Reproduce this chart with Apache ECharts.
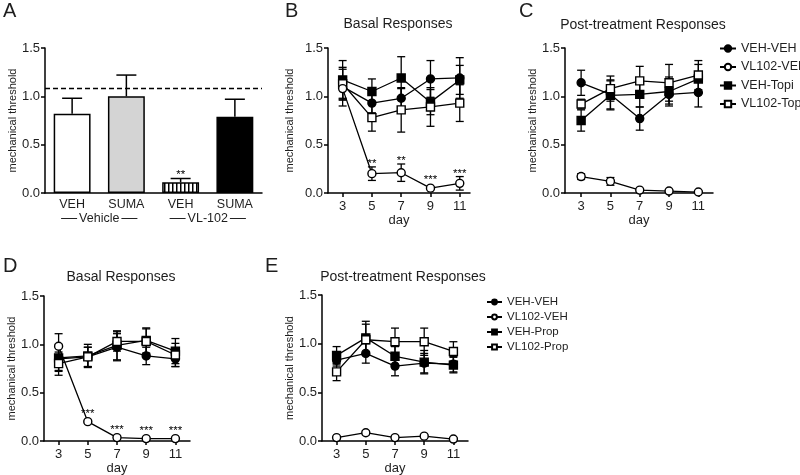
<!DOCTYPE html>
<html><head><meta charset="utf-8">
<script src="https://cdn.jsdelivr.net/npm/echarts@6/dist/echarts.min.js"></script>
<style>html,body{margin:0;padding:0;background:#fff}#c{width:800px;height:475px}</style>
</head><body><div id="c"></div>
<script>
// ---------------- data ----------------
const dayTicks = [3, 5, 7, 9, 11];

// Panel A
const barCats = ['VEH', 'SUMA', 'VEH', 'SUMA'];
const barGroups = ['Vehicle', 'VL-102'];
const barMeans = [0.82, 1.00, 0.11, 0.79];
const barErrs = [0.16, 0.22, 0.04, 0.18];
const barStars = ['', '', '**', ''];
const baselineA = 1.08;

// Panel B (Basal, Topiramate)
const bNames = ['VEH-VEH', 'VL102-VEH', 'VEH-Topi', 'VL102-Topi'];
const bVehVeh = [1.10, 0.93, 0.98, 1.18, 1.19];
const bVehVehErr = [0.20, 0.10, 0.10, 0.19, 0.21];
const bVlVeh = [1.08, 0.20, 0.21, 0.05, 0.10];
const bVlVehErr = [0.12, 0.07, 0.09, 0.01, 0.07];
const bVehTopi = [1.17, 1.05, 1.19, 0.94, 1.17];
const bVehTopiErr = [0.20, 0.13, 0.22, 0.13, 0.15];
const bVlTopi = [1.13, 0.78, 0.86, 0.89, 0.93];
const bVlTopiErr = [0.15, 0.14, 0.23, 0.20, 0.19];
const bStars = ['', '**', '**', '***', '***'];

// Panel C (Post-treatment, Topiramate)
const cVehVeh = [1.14, 1.02, 0.77, 1.02, 1.04];
const cVehVehErr = [0.13, 0.15, 0.12, 0.10, 0.15];
const cVlVeh = [0.17, 0.12, 0.03, 0.02, 0.01];
const cVlVehErr = [0.03, 0.04, 0.01, 0.01, 0.01];
const cVehTopi = [0.75, 1.01, 1.02, 1.05, 1.18];
const cVehTopiErr = [0.11, 0.15, 0.13, 0.15, 0.15];
const cVlTopi = [0.92, 1.08, 1.16, 1.14, 1.22];
const cVlTopiErr = [0.05, 0.13, 0.15, 0.19, 0.15];

// Panel D (Basal, Propranolol)
const dNames = ['VEH-VEH', 'VL102-VEH', 'VEH-Prop', 'VL102-Prop'];
const dVehVeh = [0.85, 0.87, 0.97, 0.88, 0.85];
const dVehVehErr = [0.12, 0.10, 0.14, 0.09, 0.08];
const dVlVeh = [0.98, 0.20, 0.035, 0.025, 0.025];
const dVlVehErr = [0.13, 0.01, 0.01, 0.01, 0.01];
const dVehProp = [0.86, 0.88, 0.99, 1.04, 0.93];
const dVehPropErr = [0.14, 0.12, 0.15, 0.13, 0.13];
const dVlProp = [0.80, 0.87, 1.03, 1.03, 0.89];
const dVlPropErr = [0.12, 0.10, 0.10, 0.13, 0.12];
const dStars = ['', '***', '***', '***', '***'];

// Panel E (Post-treatment, Propranolol)
const eVehVeh = [0.83, 0.90, 0.77, 0.80, 0.79];
const eVehVehErr = [0.06, 0.10, 0.10, 0.10, 0.08];
const eVlVeh = [0.035, 0.085, 0.035, 0.05, 0.02];
const eVlVehErr = [0.01, 0.02, 0.01, 0.01, 0.01];
const eVehProp = [0.88, 1.06, 0.87, 0.81, 0.78];
const eVehPropErr = [0.09, 0.17, 0.10, 0.12, 0.08];
const eVlProp = [0.71, 1.04, 1.02, 1.02, 0.92];
const eVlPropErr = [0.09, 0.16, 0.14, 0.14, 0.10];

// ---------------- chart ----------------
const FONT = 'Liberation Sans, Arial, Helvetica, sans-serif';
const TXT = '#1e1e1e';
const chart = echarts.init(document.getElementById('c'), null, {renderer: 'canvas'});

// striped fill for VL-102 / VEH bar
const pat = document.createElement('canvas');
pat.width = 4; pat.height = 4;
const pctx = pat.getContext('2d');
pctx.fillStyle = '#fff'; pctx.fillRect(0, 0, 4, 4);
pctx.fillStyle = '#000'; pctx.fillRect(0, 0, 1.5, 4);
const barFills = ['#ffffff', '#d4d4d4', {image: pat, repeat: 'repeat'}, '#000000'];

const grids = [
  {left: 45, top: 48, width: 217, height: 145},
  {left: 328, top: 48, width: 142, height: 145},
  {left: 565, top: 48, width: 148, height: 145},
  {left: 44, top: 296, width: 146, height: 145},
  {left: 322, top: 295, width: 146, height: 146}
].map(g => Object.assign({outerBoundsMode: 'none', containLabel: false}, g));

const axisLine = {show: true, lineStyle: {color: '#000', width: 1.5}};
const axisTick = {show: true, length: 4, lineStyle: {color: '#000', width: 1.5}};

function yAxisFor(gi, gap) {
  return {
    gridIndex: gi, type: 'value', min: 0, max: 1.5, interval: 0.5,
    axisLine, axisTick, splitLine: {show: false},
    axisLabel: {margin: 5, fontSize: 13, fontFamily: FONT, color: TXT, formatter: v => v.toFixed(1)},
    name: 'mechanical threshold', nameLocation: 'middle', nameGap: gap,
    nameTextStyle: {fontSize: 11, fontFamily: FONT, color: TXT}
  };
}
function xDayAxis(gi, min, max) {
  return {
    gridIndex: gi, type: 'value', min, max,
    axisLine, splitLine: {show: false},
    axisTick: Object.assign({customValues: dayTicks}, axisTick),
    axisLabel: {customValues: dayTicks, margin: 7, fontSize: 13, fontFamily: FONT, color: TXT},
    name: 'day', nameLocation: 'middle', nameGap: 21,
    nameTextStyle: {fontSize: 13, fontFamily: FONT, color: TXT}
  };
}

const xAxes = [
  {gridIndex: 0, type: 'category', data: barCats, axisLine, axisTick: {show: false},
   axisLabel: {interval: 0, margin: 5, fontSize: 12.5, fontFamily: FONT, color: TXT}},
  {gridIndex: 0, type: 'category', data: barGroups, position: 'bottom', offset: 14,
   axisLine: {show: false}, axisTick: {show: false},
   axisLabel: {interval: 0, margin: 5, fontSize: 12.5, fontFamily: FONT, color: TXT,
     formatter: v => '{l| }{g|' + v + '}{l| }',
     rich: {l: {width: 16, height: 1, backgroundColor: '#222'}, g: {padding: [0, 2], fontSize: 12.5, fontFamily: FONT, color: TXT}}}},
  xDayAxis(1, 2, 11.7),
  xDayAxis(2, 1.9, 12),
  xDayAxis(3, 2, 12),
  xDayAxis(4, 2, 12)
];
const yAxes = [yAxisFor(0, 22), yAxisFor(1, 33), yAxisFor(2, 24), yAxisFor(3, 19), yAxisFor(4, 19)];

function errRender(capHalf) {
  return function (params, api) {
    const x = api.value(0), m = api.value(1), e = api.value(2);
    const top = api.coord([x, m + e]);
    const bot = api.coord([x, Math.max(0, m - e)]);
    const style = {stroke: '#000', lineWidth: 1.3, fill: null};
    return {type: 'group', children: [
      {type: 'line', shape: {x1: top[0], y1: top[1], x2: bot[0], y2: bot[1]}, style},
      {type: 'line', shape: {x1: top[0] - capHalf, y1: top[1], x2: top[0] + capHalf, y2: top[1]}, style},
      {type: 'line', shape: {x1: bot[0] - capHalf, y1: bot[1], x2: bot[0] + capHalf, y2: bot[1]}, style}
    ]};
  };
}
function starSeries(xi, yi, xs, means, errs, stars) {
  return {
    type: 'custom', xAxisIndex: xi, yAxisIndex: yi, z: 5, silent: true,
    data: xs.map((x, i) => [x, means[i], errs[i]]),
    encode: {x: 0, y: 1},
    renderItem: function (params, api) {
      const s = stars[params.dataIndex];
      if (!s) return null;
      const x = api.value(0), m = api.value(1), e = api.value(2);
      const top = api.coord([x, m + e]);
      const pt = api.coord([x, m]);
      const y = Math.min(top[1], pt[1] - 5) - 3;
      return {type: 'text', x: top[0], y: y,
        style: {text: s, align: 'center', verticalAlign: 'middle', fontSize: 11.5, fontFamily: FONT, fill: '#000'}};
    }
  };
}

const symbolStyles = [
  {symbol: 'circle', fill: '#000'},
  {symbol: 'circle', fill: '#fff'},
  {symbol: 'rect', fill: '#000'},
  {symbol: 'rect', fill: '#fff'}
];

function panelSeries(xi, yi, names, means, errs, stars, size) {
  const out = [];
  const errData = [];
  means.forEach((arr, k) => arr.forEach((v, i) => errData.push([dayTicks[i], v, errs[k][i]])));
  out.push({type: 'custom', xAxisIndex: xi, yAxisIndex: yi, z: 1, silent: true,
    data: errData, encode: {x: 0, y: 1}, renderItem: errRender(4)});
  means.forEach((arr, k) => {
    const st = symbolStyles[k];
    out.push({
      type: 'line', name: names[k], xAxisIndex: xi, yAxisIndex: yi, z: 3 + (k === 1 ? 1 : 0),
      data: arr.map((v, i) => [dayTicks[i], v]),
      symbol: st.symbol, symbolSize: size, showSymbol: true, animation: false,
      lineStyle: {color: '#000', width: 1.3},
      itemStyle: {color: st.fill, borderColor: '#000', borderWidth: 1.4, opacity: 1}
    });
  });
  if (stars) out.push(starSeries(xi, yi, dayTicks, means[1], errs[1], stars));
  return out;
}

const series = [];
// Panel A bars
series.push({
  type: 'bar', xAxisIndex: 0, yAxisIndex: 0, barWidth: '68%', animation: false,
  data: barMeans.map((v, i) => ({value: v, itemStyle: {color: barFills[i], borderColor: '#000', borderWidth: 1.5}})),
  markLine: {silent: true, symbol: ['none', 'none'], label: {show: false},
    lineStyle: {color: '#000', type: [5, 3], width: 1.4}, data: [{yAxis: baselineA}]}
});
series.push({type: 'custom', xAxisIndex: 0, yAxisIndex: 0, z: 1, silent: true,
  data: barMeans.map((v, i) => [i, v, barErrs[i]]), encode: {x: 0, y: 1},
  renderItem: function (params, api) {
    const i = api.value(0), m = api.value(1), e = api.value(2);
    const top = api.coord([i, m + e]), base = api.coord([i, m]);
    const style = {stroke: '#000', lineWidth: 1.5, fill: null};
    return {type: 'group', children: [
      {type: 'line', shape: {x1: top[0], y1: top[1], x2: base[0], y2: base[1]}, style},
      {type: 'line', shape: {x1: top[0] - 10, y1: top[1], x2: top[0] + 10, y2: top[1]}, style}
    ]};
  }});
series.push(starSeries(0, 0, barCats.map((c, i) => i), barMeans, barErrs, barStars));

series.push(...panelSeries(2, 1, bNames,
  [bVehVeh, bVlVeh, bVehTopi, bVlTopi], [bVehVehErr, bVlVehErr, bVehTopiErr, bVlTopiErr], bStars, 8));
series.push(...panelSeries(3, 2, bNames,
  [cVehVeh, cVlVeh, cVehTopi, cVlTopi], [cVehVehErr, cVlVehErr, cVehTopiErr, cVlTopiErr], null, 8));
series.push(...panelSeries(4, 3, dNames,
  [dVehVeh, dVlVeh, dVehProp, dVlProp], [dVehVehErr, dVlVehErr, dVehPropErr, dVlPropErr], dStars, 8));
series.push(...panelSeries(5, 4, dNames,
  [eVehVeh, eVlVeh, eVehProp, eVlProp], [eVehVehErr, eVlVehErr, eVehPropErr, eVlPropErr], null, 8));

const letter = (t, l, tp) => ({text: t, left: l, top: tp, padding: 0,
  textStyle: {fontSize: 20, fontWeight: 'normal', fontFamily: FONT, color: TXT}});
const ptitle = (t, cx, tp) => ({text: t, left: cx, top: tp, textAlign: 'center', padding: 0,
  textStyle: {fontSize: 14, fontWeight: 'normal', fontFamily: FONT, color: TXT}});

const option = {
  animation: false,
  backgroundColor: '#fff',
  title: [
    letter('A', 3, 1), letter('B', 285, 1), letter('C', 519, 1), letter('D', 3, 256), letter('E', 265, 256),
    ptitle('Basal Responses', 398, 17), ptitle('Post-treatment Responses', 643, 18),
    ptitle('Basal Responses', 121, 270), ptitle('Post-treatment Responses', 403, 270)
  ],
  legend: [
    {data: bNames, orient: 'vertical', left: 719, top: 42, itemWidth: 16, itemHeight: 8, itemGap: 5.5,
     selectedMode: false, textStyle: {fontSize: 12.5, fontFamily: FONT, color: TXT}, padding: 0},
    {data: dNames, orient: 'vertical', left: 486, top: 296, itemWidth: 15, itemHeight: 6, itemGap: 3,
     selectedMode: false, textStyle: {fontSize: 11.5, fontFamily: FONT, color: TXT}, padding: 0}
  ],
  grid: grids,
  xAxis: xAxes,
  yAxis: yAxes,
  series
};
chart.setOption(option);
</script>
</body></html>
